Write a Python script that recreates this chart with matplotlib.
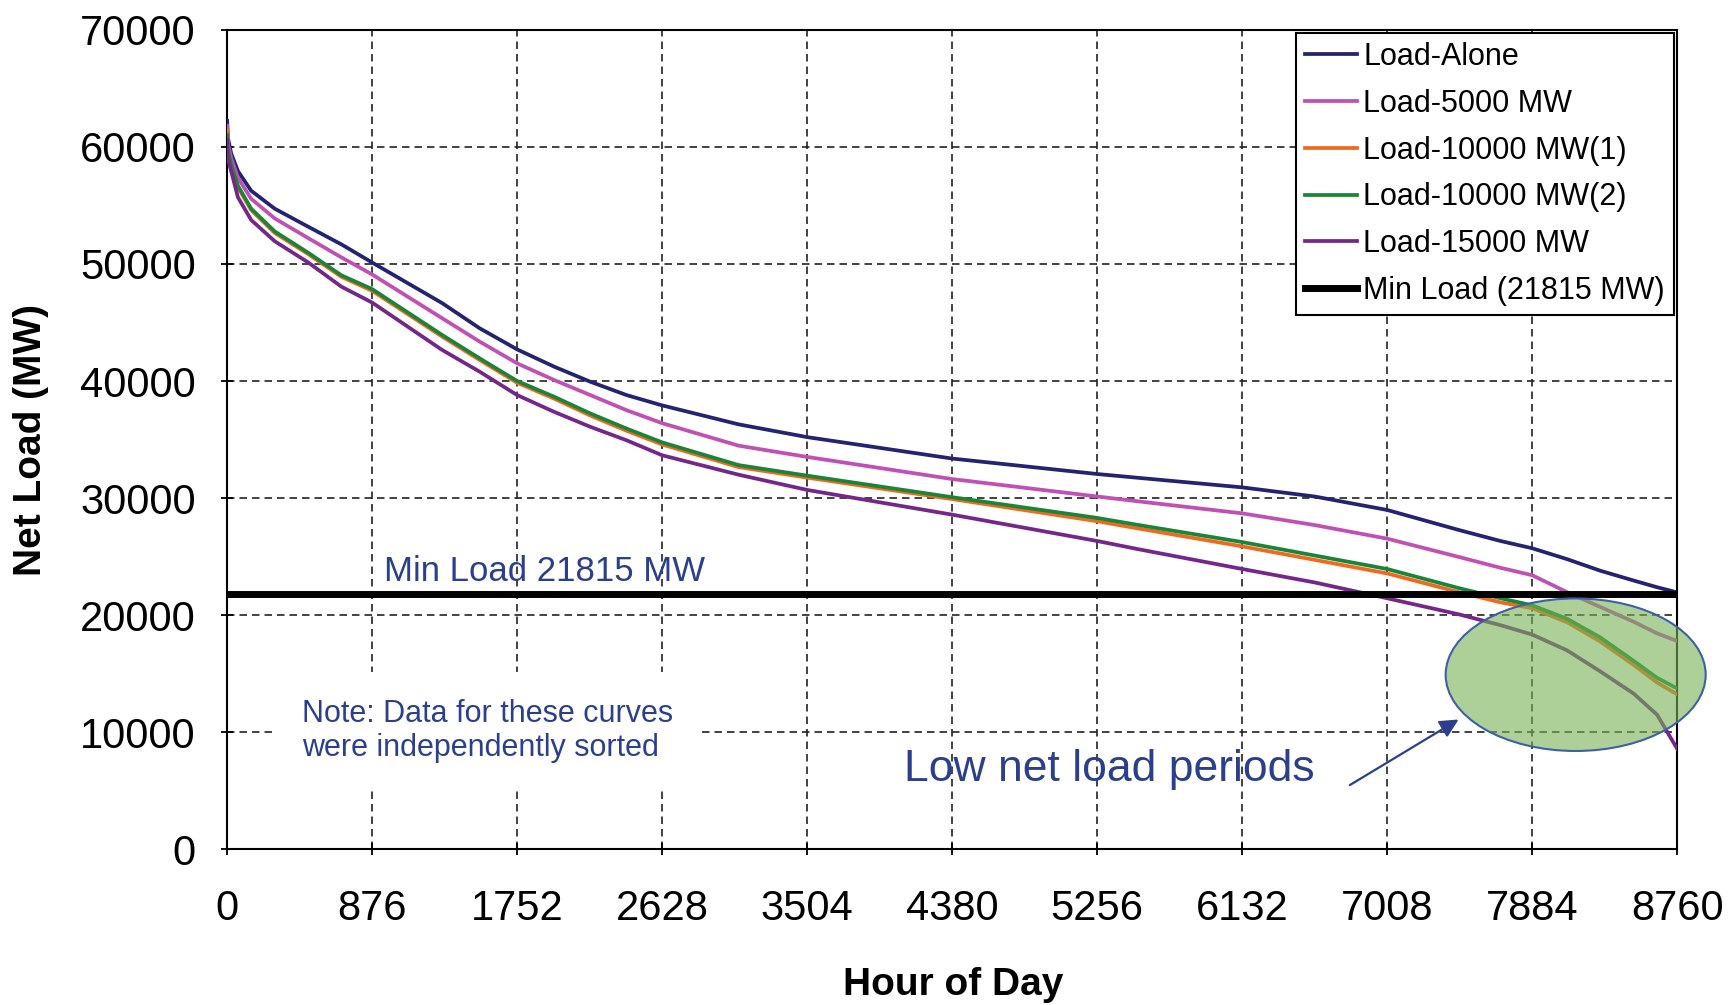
import matplotlib
matplotlib.use("Agg")
import matplotlib.pyplot as plt
from matplotlib.patches import Ellipse

plt.rcParams['font.family'] = ['Liberation Sans', 'DejaVu Sans']

# sorted hours of the year (duration curve)
hours = [0, 4, 24, 65, 145, 287, 488, 690, 876, 1298, 1525, 1752, 1975, 2194, 2413,
         2628, 3090, 3504, 4380, 5256, 5508, 6132, 6570, 7008, 7446, 7693, 7884,
         8095, 8296, 8498, 8639, 8760]

load_alone = [62200, 60800, 59440, 57920, 56250, 54720, 53190, 51670, 50120, 46660,
              44510, 42700, 41230, 39940, 38800, 37920, 36300, 35210, 33380, 32060,
              31730, 30920, 30140, 28990, 27260, 26340, 25720, 24790, 23800, 22960,
              22390, 21950]
load_5000 = [61800, 60300, 59030, 57360, 55560, 53890, 52220, 50560, 49100, 45370,
             43370, 41510, 40090, 38800, 37510, 36400, 34480, 33520, 31630, 30140,
             29720, 28700, 27700, 26540, 24960, 24050, 23420, 21970, 20700, 19440,
             18450, 17800]
load_10000_1 = [61400, 59700, 58350, 56550, 54600, 52650, 50850, 48900, 47700, 43800,
                41800, 39850, 38500, 37050, 35750, 34580, 32650, 31750, 29920, 28030,
                27400, 25880, 24730, 23570, 21950, 21100, 20600, 19400, 17750, 15750,
                14250, 13250]
load_10000_2 = [61000, 59800, 58470, 56670, 54720, 52780, 50970, 49030, 47850, 43940,
                41940, 40000, 38660, 37230, 35940, 34760, 32820, 31920, 30080, 28310,
                27700, 26250, 25100, 23950, 22300, 21450, 20850, 19700, 18100, 16100,
                14650, 13750]
load_15000 = [60600, 59000, 57920, 55690, 53750, 51940, 50140, 48060, 46700, 42660,
              40800, 38800, 37370, 36090, 34940, 33660, 32000, 30700, 28590, 26340,
              25630, 23950, 22800, 21450, 20060, 19150, 18350, 17000, 15200, 13300,
              11500, 8600]
min_load = 21815

series = [
    ('Load-Alone', load_alone, '#232372'),
    ('Load-5000 MW', load_5000, '#c050b4'),
    ('Load-10000 MW(1)', load_10000_1, '#f06a1e'),
    ('Load-10000 MW(2)', load_10000_2, '#1a8538'),
    ('Load-15000 MW', load_15000, '#74268a'),
]
xticks = [0, 876, 1752, 2628, 3504, 4380, 5256, 6132, 7008, 7884, 8760]
yticks = [0, 10000, 20000, 30000, 40000, 50000, 60000, 70000]
note_blue = '#2b3f8c'

fig = plt.figure(figsize=(17.29, 10.05), dpi=100)
ax = fig.add_axes([0.1314, 0.1548, 0.8386, 0.8156])

for name, vals, col in series:
    ax.plot(hours, vals, color=col, lw=2.7, label=name, zorder=3)
ax.axhline(min_load, color='black', lw=5, label='Min Load (21815 MW)', zorder=4)

ax.set_xlim(0, 8760)
ax.set_ylim(0, 70000)
ax.set_xticks(xticks)
ax.set_yticks(yticks)
ax.grid(True, color='#222222', linestyle=(0, (4.5, 3)), lw=1.2, zorder=1)
for s in ax.spines.values():
    s.set_color('black')
    s.set_linewidth(1.5)
ax.tick_params(axis='both', direction='inout', length=9, width=1.3, labelsize=30)
ax.tick_params(axis='y', pad=18)
ax.tick_params(axis='x', pad=24)

ax.set_xlabel('Hour of Day', fontsize=28, fontweight='bold')
ax.set_ylabel('Net Load (MW)', fontsize=28, fontweight='bold')
ax.xaxis.set_label_coords(0.501, -0.143)
ax.yaxis.set_label_coords(-0.123, 0.499)

# low net load highlight
ax.add_patch(Ellipse((8147, 14920), 1571, 13025, facecolor='#77b255', alpha=0.6,
                     edgecolor='none', zorder=5, clip_on=False))
ax.add_patch(Ellipse((8147, 14920), 1571, 13025, facecolor='none',
                     edgecolor='#3f5fa8', lw=1.5, zorder=6, clip_on=False))

ax.text(946, 22350, 'Min Load 21815 MW', fontsize=25, color=note_blue,
        ha='left', va='bottom', zorder=6)
ax.text(453, 10130, 'Note: Data for these curves\nwere independently sorted',
        fontsize=22, color=note_blue, ha='left', va='center', linespacing=1.15,
        bbox=dict(boxstyle='square,pad=0.9', facecolor='white', edgecolor='none'),
        zorder=2)
ax.text(4090, 6790, 'Low net load periods', fontsize=32, color=note_blue,
        ha='left', va='center', zorder=6)
ax.annotate('', xy=(7454, 11220), xytext=(6768, 5370),
            arrowprops=dict(arrowstyle='-|>', color=note_blue, lw=1.6,
                            mutation_scale=28), zorder=6)

leg = ax.legend(loc='upper right', bbox_to_anchor=(1.0, 1.0), borderaxespad=0.1,
                fontsize=22, frameon=True, fancybox=False, edgecolor='black',
                framealpha=1, handlelength=1.7, handletextpad=0.2,
                labelspacing=0.55, borderpad=0.3)
leg.get_frame().set_linewidth(1.5)
leg.set_zorder(10)

fig.savefig('out.png', dpi=100)
